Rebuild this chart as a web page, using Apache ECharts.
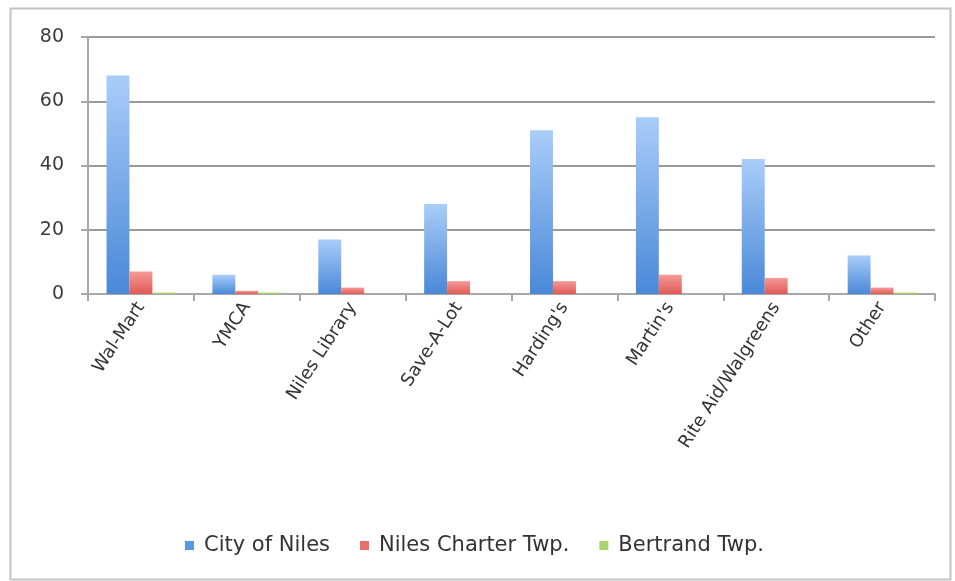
<!DOCTYPE html>
<html>
<head>
<meta charset="utf-8">
<script src="https://cdn.jsdelivr.net/npm/echarts@6/dist/echarts.min.js"></script>
<style>
  html, body { margin: 0; padding: 0; background: #fff; }
  #main { width: 955px; height: 581px; }
</style>
</head>
<body>
<div id="main"></div>
<script>
// data
var categories = ['Wal-Mart', 'YMCA', 'Niles Library', 'Save-A-Lot', "Harding's", "Martin's", 'Rite Aid/Walgreens', 'Other'];
var cityOfNiles = [68, 6, 17, 28, 51, 55, 42, 12];
var nilesCharter = [7, 1, 2, 4, 4, 6, 5, 2];
var bertrand = [0.5, 0.5, 0, 0, 0, 0, 0, 0.5];
var yTicks = [0, 20, 40, 60, 80];

var chart = echarts.init(document.getElementById('main'));

function grad(top, bottom) {
  return new echarts.graphic.LinearGradient(0, 0, 0, 1, [
    { offset: 0, color: top },
    { offset: 1, color: bottom }
  ]);
}

var option = {
  animation: false,
  textStyle: { fontFamily: 'DejaVu Sans' },
  graphic: [{
    type: 'rect',
    left: 8, top: 6,
    shape: { width: 940, height: 571 },
    style: { fill: 'none', stroke: '#c4c4c4', lineWidth: 2 },
    silent: true
  }],
  legend: {
    bottom: 20,
    left: 180,
    itemWidth: 9,
    itemHeight: 9,
    itemGap: 30,
    icon: 'rect',
    textStyle: { fontSize: 21, color: '#333', fontFamily: 'DejaVu Sans', padding: [0, 0, 0, 5] },
    data: [
      { name: 'City of Niles', itemStyle: { color: '#5b97e0' } },
      { name: 'Niles Charter Twp.', itemStyle: { color: '#ea6e6a' } },
      { name: 'Bertrand Twp.', itemStyle: { color: '#a8d46f' } }
    ]
  },
  grid: { left: 88, right: 20, top: 37, bottom: 287 },
  xAxis: {
    type: 'category',
    data: categories,
    axisLine: { lineStyle: { color: '#a8a8a8', width: 2 } },
    axisTick: { show: true, length: 7, lineStyle: { color: '#a8a8a8', width: 2 } },
    axisLabel: { rotate: 57, fontSize: 18, color: '#333', margin: 10 }
  },
  yAxis: {
    type: 'value',
    min: yTicks[0],
    max: yTicks[yTicks.length - 1],
    interval: 20,
    axisLine: { show: true, lineStyle: { color: '#a8a8a8', width: 2 } },
    axisTick: { show: true, length: 7, lineStyle: { color: '#a8a8a8', width: 2 } },
    splitLine: { lineStyle: { color: '#9a9a9a', width: 2 } },
    axisLabel: { fontSize: 19, color: '#3c3c3c', margin: 24 }
  },
  series: [
    {
      name: 'City of Niles', type: 'bar', data: cityOfNiles,
      barGap: '0%', barCategoryGap: '35%',
      itemStyle: { color: grad('#a9cdf9', '#4a88d8') }
    },
    {
      name: 'Niles Charter Twp.', type: 'bar', data: nilesCharter,
      itemStyle: { color: grad('#f59a98', '#e05a55') }
    },
    {
      name: 'Bertrand Twp.', type: 'bar', data: bertrand,
      itemStyle: { color: grad('#c8e49a', '#96c459') }
    }
  ]
};
chart.setOption(option);
</script>
</body>
</html>
